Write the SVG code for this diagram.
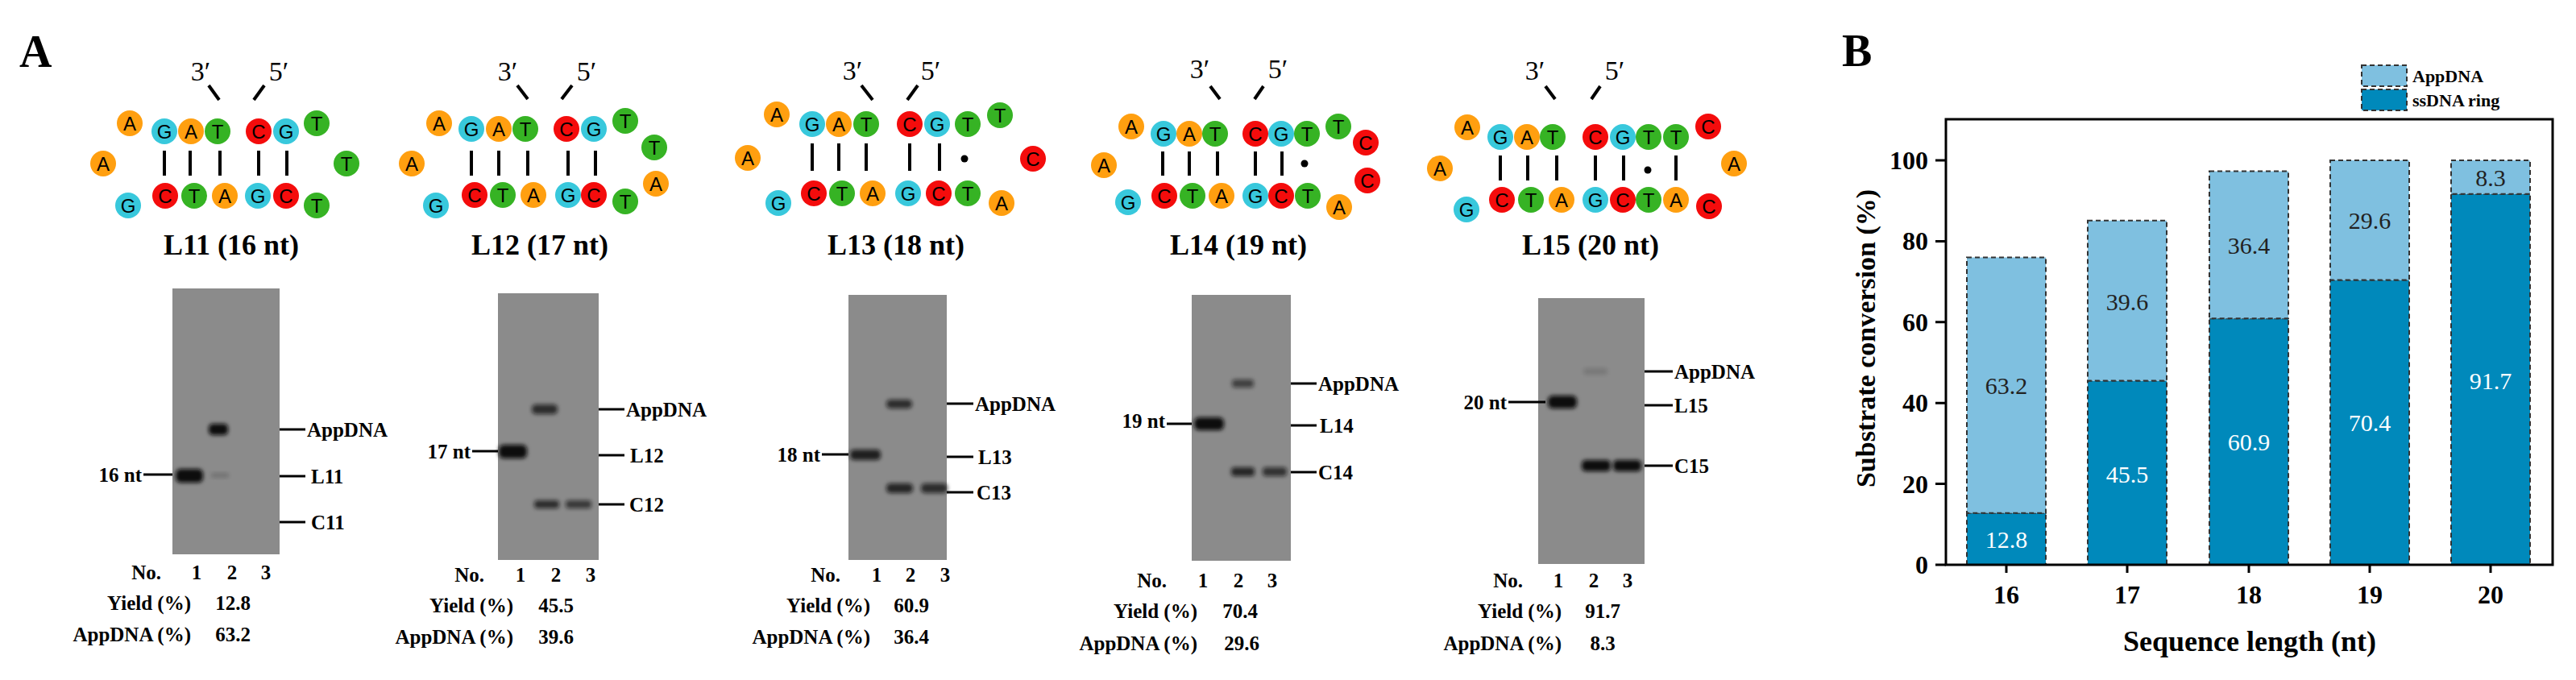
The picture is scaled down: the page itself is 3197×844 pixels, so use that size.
<svg xmlns="http://www.w3.org/2000/svg" width="3197" height="844" viewBox="0 0 3197 844">
<style>
.bg{fill:#fff}
.nA{fill:#ff9f10}.nG{fill:#38c8dc}.nT{fill:#36b324}.nC{fill:#f40c0c}
.nl{font-family:"Liberation Sans",Arial,sans-serif;font-size:24px;fill:#000;text-anchor:middle}
.bar{stroke:#000;stroke-width:4}
.sl{stroke:#000;stroke-width:4;stroke-linecap:butt}
.prime{font-family:"Liberation Serif",serif;font-size:34px;text-anchor:middle}
.title{font-family:"Liberation Serif",serif;font-size:36px;font-weight:bold;text-anchor:middle}
.big{font-family:"Liberation Serif",serif;font-size:56px;font-weight:bold}
.gel{fill:#8b8b8b}
.band{fill:#0a0a0a;filter:url(#blur)}
.lab{font-family:"Liberation Serif",serif;font-size:25px;font-weight:bold}
.ln{stroke:#000;stroke-width:3}
.r{text-anchor:end}.m{text-anchor:middle}
.ring{fill:#0089bb;stroke:#333;stroke-width:2;stroke-dasharray:6 4}
.app{fill:#7fc0e0;stroke:#333;stroke-width:2;stroke-dasharray:6 4}
.val{font-family:"Liberation Serif",serif;font-size:30px;text-anchor:middle}
.ax{stroke:#000;stroke-width:3;fill:none}
.tick{font-family:"Liberation Serif",serif;font-size:32px;font-weight:bold}
</style>
<defs>
<filter id="blur" x="-20%" y="-50%" width="140%" height="200%"><feGaussianBlur stdDeviation="2.5"/></filter>
<g id="A"><circle r="16" class="nA"/><text y="9" class="nl">A</text></g>
<g id="G"><circle r="16" class="nG"/><text y="9" class="nl">G</text></g>
<g id="T"><circle r="16" class="nT"/><text y="9" class="nl">T</text></g>
<g id="C"><circle r="16" class="nC"/><text y="9" class="nl">C</text></g>
</defs>
<rect class="bg" width="3197" height="844"/>
<text class="big" x="24" y="83">A</text>
<text class="big" x="2286" y="82">B</text>

<!-- L11 -->
<g id="L11">
<text class="prime" x="249" y="100">3′</text><text class="prime" x="346" y="100">5′</text>
<line class="sl" x1="259" y1="106" x2="272" y2="124"/><line class="sl" x1="328" y1="106" x2="315" y2="124"/>
<use href="#G" x="204" y="163"/><use href="#A" x="237" y="163"/><use href="#T" x="270" y="163"/><use href="#C" x="321" y="163"/><use href="#G" x="355" y="163"/>
<use href="#A" x="161" y="153"/><use href="#A" x="128" y="203"/><use href="#G" x="159" y="255"/>
<use href="#T" x="393" y="153"/><use href="#T" x="430" y="203"/><use href="#T" x="393" y="255"/>
<use href="#C" x="205" y="243"/><use href="#T" x="241" y="243"/><use href="#A" x="279" y="243"/><use href="#G" x="320" y="243"/><use href="#C" x="355" y="243"/>
<path class="bar" d="M204 187V218M236 187V218M273 187V218M321 187V218M356 187V218"/>
<text class="title" x="287" y="316">L11 (16 nt)</text>
<rect class="gel" x="214" y="358" width="133" height="330"/>
<rect class="band" x="259" y="526" width="24" height="14" rx="5"/>
<rect class="band" x="218" y="582" width="34" height="17" rx="6"/>
<rect class="band" x="262" y="587" width="22" height="6" rx="3" style="opacity:.2"/>
<line class="ln" x1="178" y1="589" x2="214" y2="589"/><text class="lab r" x="176" y="598">16 nt</text>
<line class="ln" x1="347" y1="533" x2="379" y2="533"/><text class="lab" x="381" y="542">AppDNA</text>
<line class="ln" x1="347" y1="591" x2="379" y2="591"/><text class="lab" x="386" y="600">L11</text>
<line class="ln" x1="347" y1="648" x2="379" y2="648"/><text class="lab" x="386" y="657">C11</text>
<text class="lab r" x="200" y="719">No.</text><text class="lab m" x="244" y="719">1</text><text class="lab m" x="288" y="719">2</text><text class="lab m" x="330" y="719">3</text>
<text class="lab r" x="237" y="757">Yield (%)</text><text class="lab m" x="289" y="757">12.8</text>
<text class="lab r" x="237" y="796">AppDNA (%)</text><text class="lab m" x="289" y="796">63.2</text>
</g>

<!-- L12 -->
<g id="L12">
<text class="prime" x="630" y="100">3′</text><text class="prime" x="728" y="100">5′</text>
<line class="sl" x1="642" y1="106" x2="655" y2="123"/><line class="sl" x1="710" y1="106" x2="697" y2="123"/>
<use href="#G" x="585" y="160"/><use href="#A" x="619" y="160"/><use href="#T" x="652" y="160"/><use href="#C" x="703" y="160"/><use href="#G" x="737" y="160"/>
<use href="#A" x="545" y="153"/><use href="#A" x="511" y="203"/><use href="#G" x="541" y="255"/>
<use href="#T" x="776" y="150"/><use href="#T" x="812" y="183"/><use href="#A" x="814" y="228"/><use href="#T" x="776" y="250"/>
<use href="#C" x="589" y="242"/><use href="#T" x="624" y="242"/><use href="#A" x="662" y="242"/><use href="#G" x="705" y="242"/><use href="#C" x="737" y="242"/>
<path class="bar" d="M585 187V218M619 187V218M655 187V218M705 187V218M739 187V218"/>
<text class="title" x="670" y="316">L12 (17 nt)</text>
<rect class="gel" x="618" y="364" width="125" height="331"/>
<rect class="band" x="660" y="502" width="32" height="12" rx="5" style="opacity:.75"/>
<rect class="band" x="619" y="552" width="35" height="17" rx="6"/>
<rect class="band" x="663" y="621" width="31" height="10" rx="4" style="opacity:.75"/>
<rect class="band" x="702" y="621" width="32" height="10" rx="4" style="opacity:.65"/>
<line class="ln" x1="586" y1="560" x2="618" y2="560"/><text class="lab r" x="584" y="569">17 nt</text>
<line class="ln" x1="743" y1="508" x2="775" y2="508"/><text class="lab" x="777" y="517">AppDNA</text>
<line class="ln" x1="743" y1="565" x2="775" y2="565"/><text class="lab" x="782" y="574">L12</text>
<line class="ln" x1="743" y1="626" x2="775" y2="626"/><text class="lab" x="781" y="635">C12</text>
<text class="lab r" x="601" y="722">No.</text><text class="lab m" x="646" y="722">1</text><text class="lab m" x="690" y="722">2</text><text class="lab m" x="733" y="722">3</text>
<text class="lab r" x="637" y="760">Yield (%)</text><text class="lab m" x="690" y="760">45.5</text>
<text class="lab r" x="637" y="799">AppDNA (%)</text><text class="lab m" x="690" y="799">39.6</text>
</g>

<!-- L13 -->
<g id="L13">
<text class="prime" x="1058" y="99">3′</text><text class="prime" x="1155" y="99">5′</text>
<line class="sl" x1="1069" y1="106" x2="1083" y2="124"/><line class="sl" x1="1139" y1="106" x2="1126" y2="124"/>
<use href="#G" x="1008" y="154"/><use href="#A" x="1041" y="154"/><use href="#T" x="1075" y="154"/><use href="#C" x="1129" y="154"/><use href="#G" x="1163" y="154"/><use href="#T" x="1201" y="154"/>
<use href="#A" x="964" y="142"/><use href="#A" x="928" y="196"/><use href="#G" x="966" y="252"/>
<use href="#T" x="1241" y="143"/><use href="#C" x="1282" y="197"/><use href="#A" x="1243" y="252"/>
<use href="#C" x="1010" y="240"/><use href="#T" x="1045" y="240"/><use href="#A" x="1083" y="240"/><use href="#G" x="1127" y="240"/><use href="#C" x="1165" y="240"/><use href="#T" x="1201" y="240"/>
<path class="bar" d="M1008 178V212M1041 178V212M1075 178V212M1129 178V212M1166 178V212"/>
<circle cx="1197" cy="197" r="4.5"/>
<text class="title" x="1112" y="316">L13 (18 nt)</text>
<rect class="gel" x="1053" y="366" width="122" height="329"/>
<rect class="band" x="1100" y="496" width="32" height="11" rx="5" style="opacity:.75"/>
<rect class="band" x="1055" y="558" width="38" height="13" rx="5" style="opacity:.85"/>
<rect class="band" x="1100" y="600" width="33" height="12" rx="5" style="opacity:.8"/>
<rect class="band" x="1143" y="600" width="33" height="12" rx="5" style="opacity:.75"/>
<line class="ln" x1="1020" y1="564" x2="1053" y2="564"/><text class="lab r" x="1018" y="573">18 nt</text>
<line class="ln" x1="1175" y1="501" x2="1208" y2="501"/><text class="lab" x="1210" y="510">AppDNA</text>
<line class="ln" x1="1175" y1="567" x2="1208" y2="567"/><text class="lab" x="1214" y="576">L13</text>
<line class="ln" x1="1175" y1="611" x2="1208" y2="611"/><text class="lab" x="1212" y="620">C13</text>
<text class="lab r" x="1043" y="722">No.</text><text class="lab m" x="1088" y="722">1</text><text class="lab m" x="1130" y="722">2</text><text class="lab m" x="1173" y="722">3</text>
<text class="lab r" x="1080" y="760">Yield (%)</text><text class="lab m" x="1131" y="760">60.9</text>
<text class="lab r" x="1080" y="799">AppDNA (%)</text><text class="lab m" x="1131" y="799">36.4</text>
</g>

<!-- L14 -->
<g id="L14">
<text class="prime" x="1489" y="97">3′</text><text class="prime" x="1586" y="97">5′</text>
<line class="sl" x1="1502" y1="107" x2="1514" y2="123"/><line class="sl" x1="1568" y1="107" x2="1557" y2="123"/>
<use href="#G" x="1444" y="166"/><use href="#A" x="1476" y="166"/><use href="#T" x="1508" y="166"/><use href="#C" x="1558" y="166"/><use href="#G" x="1590" y="166"/><use href="#T" x="1622" y="166"/>
<use href="#A" x="1404" y="157"/><use href="#A" x="1370" y="205"/><use href="#G" x="1400" y="251"/>
<use href="#T" x="1661" y="157"/><use href="#C" x="1695" y="177"/><use href="#C" x="1697" y="224"/><use href="#A" x="1662" y="257"/>
<use href="#C" x="1445" y="243"/><use href="#T" x="1480" y="243"/><use href="#A" x="1516" y="243"/><use href="#G" x="1558" y="243"/><use href="#C" x="1590" y="243"/><use href="#T" x="1623" y="243"/>
<path class="bar" d="M1443 188V218M1476 188V218M1511 188V218M1558 188V218M1591 188V218"/>
<circle cx="1619" cy="203" r="4.5"/>
<text class="title" x="1537" y="316">L14 (19 nt)</text>
<rect class="gel" x="1479" y="366" width="123" height="330"/>
<rect class="band" x="1529" y="471" width="27" height="10" rx="4" style="opacity:.6"/>
<rect class="band" x="1482" y="518" width="37" height="16" rx="6"/>
<rect class="band" x="1528" y="580" width="29" height="11" rx="4" style="opacity:.8"/>
<rect class="band" x="1567" y="580" width="30" height="11" rx="4" style="opacity:.7"/>
<line class="ln" x1="1448" y1="526" x2="1479" y2="526"/><text class="lab r" x="1446" y="531">19 nt</text>
<line class="ln" x1="1602" y1="476" x2="1634" y2="476"/><text class="lab" x="1636" y="485">AppDNA</text>
<line class="ln" x1="1602" y1="528" x2="1634" y2="528"/><text class="lab" x="1638" y="537">L14</text>
<line class="ln" x1="1602" y1="586" x2="1634" y2="586"/><text class="lab" x="1636" y="595">C14</text>
<text class="lab r" x="1448" y="729">No.</text><text class="lab m" x="1493" y="729">1</text><text class="lab m" x="1537" y="729">2</text><text class="lab m" x="1579" y="729">3</text>
<text class="lab r" x="1486" y="767">Yield (%)</text><text class="lab m" x="1539" y="767">70.4</text>
<text class="lab r" x="1486" y="807">AppDNA (%)</text><text class="lab m" x="1541" y="807">29.6</text>
</g>

<!-- L15 -->
<g id="L15">
<text class="prime" x="1905" y="99">3′</text><text class="prime" x="2004" y="99">5′</text>
<line class="sl" x1="1918" y1="107" x2="1930" y2="123"/><line class="sl" x1="1986" y1="107" x2="1975" y2="123"/>
<use href="#G" x="1862" y="170"/><use href="#A" x="1895" y="170"/><use href="#T" x="1927" y="170"/><use href="#C" x="1980" y="170"/><use href="#G" x="2014" y="170"/><use href="#T" x="2046" y="170"/><use href="#T" x="2080" y="170"/>
<use href="#A" x="1821" y="158"/><use href="#A" x="1787" y="209"/><use href="#G" x="1820" y="260"/>
<use href="#C" x="2120" y="157"/><use href="#A" x="2152" y="203"/><use href="#C" x="2121" y="256"/>
<use href="#C" x="1864" y="248"/><use href="#T" x="1900" y="248"/><use href="#A" x="1938" y="248"/><use href="#G" x="1980" y="248"/><use href="#C" x="2014" y="248"/><use href="#T" x="2046" y="248"/><use href="#A" x="2080" y="248"/>
<path class="bar" d="M1862 193V224M1896 193V224M1932 193V224M1980 193V224M2015 193V224M2080 193V224"/>
<circle cx="2045" cy="211" r="4.5"/>
<text class="title" x="1974" y="316">L15 (20 nt)</text>
<rect class="gel" x="1909" y="370" width="132" height="330"/>
<rect class="band" x="1965" y="457" width="30" height="8" rx="4" style="opacity:.15"/>
<rect class="band" x="1921" y="491" width="36" height="16" rx="6"/>
<rect class="band" x="1963" y="571" width="36" height="14" rx="5"/>
<rect class="band" x="2002" y="571" width="35" height="14" rx="5"/>
<line class="ln" x1="1872" y1="499" x2="1918" y2="499"/><text class="lab r" x="1870" y="508">20 nt</text>
<line class="ln" x1="2041" y1="461" x2="2076" y2="461"/><text class="lab" x="2078" y="470">AppDNA</text>
<line class="ln" x1="2041" y1="503" x2="2076" y2="503"/><text class="lab" x="2078" y="512">L15</text>
<line class="ln" x1="2041" y1="578" x2="2076" y2="578"/><text class="lab" x="2078" y="587">C15</text>
<text class="lab r" x="1890" y="729">No.</text><text class="lab m" x="1934" y="729">1</text><text class="lab m" x="1978" y="729">2</text><text class="lab m" x="2020" y="729">3</text>
<text class="lab r" x="1938" y="767">Yield (%)</text><text class="lab m" x="1989" y="767">91.7</text>
<text class="lab r" x="1938" y="807">AppDNA (%)</text><text class="lab m" x="1989" y="807">8.3</text>
</g>

<!-- Panel B -->
<g id="chartB">
<g id="legend">
<rect class="app" x="2931" y="81" width="56" height="26"/>
<rect class="ring" x="2931" y="111" width="56" height="26"/>
<text class="lab" x="2994" y="102" style="font-size:22px">AppDNA</text>
<text class="lab" x="2994" y="132" style="font-size:22px">ssDNA ring</text>
</g>
<g id="bars">
<rect class="ring" x="2441" y="636.7" width="98" height="64.3"/><rect class="app" x="2441" y="319.5" width="98" height="317.2"/>
<rect class="ring" x="2591" y="472.6" width="98" height="228.4"/><rect class="app" x="2591" y="273.8" width="98" height="198.8"/>
<rect class="ring" x="2742" y="395.3" width="98" height="305.7"/><rect class="app" x="2742" y="212.6" width="98" height="182.7"/>
<rect class="ring" x="2892" y="347.6" width="98" height="353.4"/><rect class="app" x="2892" y="199" width="98" height="148.6"/>
<rect class="ring" x="3042" y="240.7" width="98" height="460.3"/><rect class="app" x="3042" y="199" width="98" height="41.7"/>
</g>
<g id="values">
<text class="val" x="2490" y="489" fill="#222">63.2</text><text class="val" x="2490" y="680" fill="#fff">12.8</text>
<text class="val" x="2640" y="385" fill="#222">39.6</text><text class="val" x="2640" y="599" fill="#fff">45.5</text>
<text class="val" x="2791" y="315" fill="#222">36.4</text><text class="val" x="2791" y="559" fill="#fff">60.9</text>
<text class="val" x="2941" y="284" fill="#222">29.6</text><text class="val" x="2941" y="535" fill="#fff">70.4</text>
<text class="val" x="3091" y="231" fill="#222">8.3</text><text class="val" x="3091" y="483" fill="#fff">91.7</text>
</g>
<rect class="ax" x="2415" y="148" width="753" height="553"/>
<path class="ax" d="M2402 701H2415M2402 600.6H2415M2402 500.2H2415M2402 399.8H2415M2402 299.4H2415M2402 199H2415M2490 701V711M2640 701V711M2791 701V711M2941 701V711M3091 701V711"/>
<g class="tick" text-anchor="end">
<text x="2393" y="712">0</text><text x="2393" y="612">20</text><text x="2393" y="511">40</text><text x="2393" y="411">60</text><text x="2393" y="310">80</text><text x="2393" y="210">100</text>
</g>
<g class="tick" text-anchor="middle">
<text x="2490" y="749">16</text><text x="2640" y="749">17</text><text x="2791" y="749">18</text><text x="2941" y="749">19</text><text x="3091" y="749">20</text>
</g>
<text class="tick" x="2792" y="808" text-anchor="middle" style="font-size:36px">Sequence length (nt)</text>
<text class="tick" transform="translate(2327 420) rotate(-90)" text-anchor="middle" style="font-size:34px">Substrate conversion (%)</text>
</g>
</svg>
